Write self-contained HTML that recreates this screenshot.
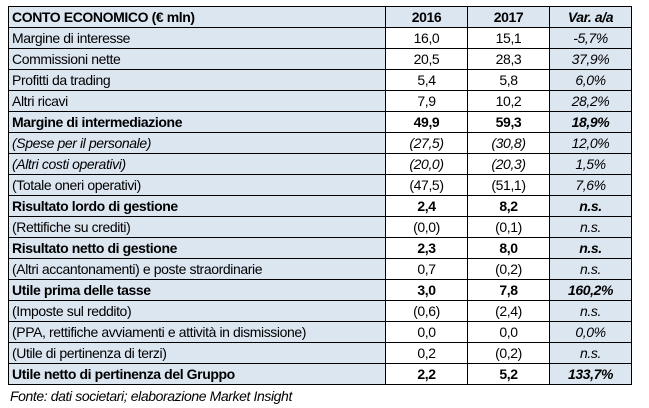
<!DOCTYPE html>
<html><head><meta charset="utf-8"><style>
body{margin:0;width:649px;height:408px;background:#fff;font-family:"Liberation Sans",sans-serif;position:relative;overflow:hidden}
table{position:absolute;left:8px;top:6px;border-collapse:collapse;table-layout:fixed;width:623px;font-size:14px;color:#000}
td{height:20px;padding:0 3px;border:1px solid #000;line-height:20px;white-space:nowrap;letter-spacing:-0.4px;overflow:hidden}
td.l{background:#dce6f1;text-align:left}
td.n{text-align:center;background:#fff}
td.v{text-align:center;background:#dce6f1;font-style:italic}
tr.h td{background:#dce6f1;font-weight:bold}
tr.b td{font-weight:bold}
tr.i td{font-style:italic}
.foot{position:absolute;left:10px;top:388px;font-size:14px;font-style:italic;letter-spacing:-0.4px}
</style></head><body>
<table>
<colgroup><col style="width:377px"><col style="width:82px"><col style="width:82px"><col style="width:82px"></colgroup>
<tr class="h"><td class="l">CONTO ECONOMICO (€ mln)</td><td class="n">2016</td><td class="n">2017</td><td class="v">Var. a/a</td></tr>
<tr><td class="l">Margine di interesse</td><td class="n">16,0</td><td class="n">15,1</td><td class="v">-5,7%</td></tr>
<tr><td class="l">Commissioni nette</td><td class="n">20,5</td><td class="n">28,3</td><td class="v">37,9%</td></tr>
<tr><td class="l">Profitti da trading</td><td class="n">5,4</td><td class="n">5,8</td><td class="v">6,0%</td></tr>
<tr><td class="l">Altri ricavi</td><td class="n">7,9</td><td class="n">10,2</td><td class="v">28,2%</td></tr>
<tr class="b"><td class="l">Margine di intermediazione</td><td class="n">49,9</td><td class="n">59,3</td><td class="v">18,9%</td></tr>
<tr class="i"><td class="l">(Spese per il personale)</td><td class="n">(27,5)</td><td class="n">(30,8)</td><td class="v">12,0%</td></tr>
<tr class="i"><td class="l">(Altri costi operativi)</td><td class="n">(20,0)</td><td class="n">(20,3)</td><td class="v">1,5%</td></tr>
<tr><td class="l">(Totale oneri operativi)</td><td class="n">(47,5)</td><td class="n">(51,1)</td><td class="v">7,6%</td></tr>
<tr class="b"><td class="l">Risultato lordo di gestione</td><td class="n">2,4</td><td class="n">8,2</td><td class="v">n.s.</td></tr>
<tr><td class="l">(Rettifiche su crediti)</td><td class="n">(0,0)</td><td class="n">(0,1)</td><td class="v">n.s.</td></tr>
<tr class="b"><td class="l">Risultato netto di gestione</td><td class="n">2,3</td><td class="n">8,0</td><td class="v">n.s.</td></tr>
<tr><td class="l">(Altri accantonamenti) e poste straordinarie</td><td class="n">0,7</td><td class="n">(0,2)</td><td class="v">n.s.</td></tr>
<tr class="b"><td class="l">Utile prima delle tasse</td><td class="n">3,0</td><td class="n">7,8</td><td class="v">160,2%</td></tr>
<tr><td class="l">(Imposte sul reddito)</td><td class="n">(0,6)</td><td class="n">(2,4)</td><td class="v">n.s.</td></tr>
<tr><td class="l">(PPA, rettifiche avviamenti e attività in dismissione)</td><td class="n">0,0</td><td class="n">0,0</td><td class="v">0,0%</td></tr>
<tr><td class="l">(Utile di pertinenza di terzi)</td><td class="n">0,2</td><td class="n">(0,2)</td><td class="v">n.s.</td></tr>
<tr class="b"><td class="l">Utile netto di pertinenza del Gruppo</td><td class="n">2,2</td><td class="n">5,2</td><td class="v">133,7%</td></tr>
</table>
<div class="foot">Fonte: dati societari; elaborazione Market Insight</div>
</body></html>
